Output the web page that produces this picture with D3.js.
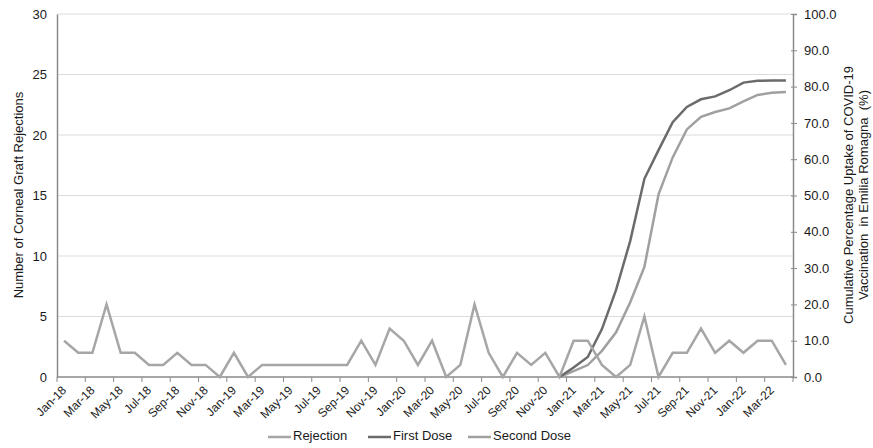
<!DOCTYPE html>
<html><head><meta charset="utf-8">
<script src="https://cdn.jsdelivr.net/npm/d3@7"></script>
<style>body{margin:0;background:#fff}text{font-family:"Liberation Sans",Arial,sans-serif;fill:#1a1a1a}</style>
</head><body><svg id="c" width="873" height="448"></svg>
<script>
const months=["Jan-18","Feb-18","Mar-18","Apr-18","May-18","Jun-18","Jul-18","Aug-18","Sep-18","Oct-18","Nov-18","Dec-18",
"Jan-19","Feb-19","Mar-19","Apr-19","May-19","Jun-19","Jul-19","Aug-19","Sep-19","Oct-19","Nov-19","Dec-19",
"Jan-20","Feb-20","Mar-20","Apr-20","May-20","Jun-20","Jul-20","Aug-20","Sep-20","Oct-20","Nov-20","Dec-20",
"Jan-21","Feb-21","Mar-21","Apr-21","May-21","Jun-21","Jul-21","Aug-21","Sep-21","Oct-21","Nov-21","Dec-21",
"Jan-22","Feb-22","Mar-22","Apr-22"];
const rejection=[3,2,2,6,2,2,1,1,2,1,1,0,2,0,1,1,1,1,1,1,1,3,1,4,3,1,3,0,1,6,2,0,2,1,2,0,3,3,1,0,1,5,0,2,2,4,2,3,2,3,3,1];
const firstDose=[null,null,null,null,null,null,null,null,null,null,null,null,null,null,null,null,null,null,null,null,null,null,null,null,
null,null,null,null,null,null,null,null,null,null,null,0,2.6,5.5,13.2,24,37.5,54.6,62.5,70.2,74.4,76.5,77.3,79,81.1,81.6,81.7,81.7];
const secondDose=[null,null,null,null,null,null,null,null,null,null,null,null,null,null,null,null,null,null,null,null,null,null,null,null,
null,null,null,null,null,null,null,null,null,null,null,0,1.6,3.3,7.2,12.3,20.6,30.3,50.3,60.5,68.2,71.7,73,74,75.9,77.7,78.3,78.5];
const leftTicks=[0,5,10,15,20,25,30];
const rightTicks=[0,10,20,30,40,50,60,70,80,90,100];
const seriesNames=["Rejection","First Dose","Second Dose"];
const colors={"Rejection":"#a6a6a6","First Dose":"#6b6b6b","Second Dose":"#a0a0a0"};

const svg=d3.select("#c");
const L=57,R=793,T=14,B=377;
const x=d3.scaleBand().domain(months).range([L,R]).paddingInner(0).paddingOuter(0);
const yL=d3.scaleLinear().domain([0,30]).range([B,T]);
const yR=d3.scaleLinear().domain([0,100]).range([B,T]);
const cx=m=>x(m)+x.bandwidth()/2;

// gridlines
svg.append("g").selectAll("line").data(leftTicks.filter(d=>d>0)).join("line")
 .attr("x1",L).attr("x2",R).attr("y1",d=>yL(d)).attr("y2",d=>yL(d))
 .attr("stroke","#dcdcdc").attr("stroke-width",1);

// left axis
const gL=svg.append("g").attr("transform",`translate(${L},0)`)
 .call(d3.axisLeft(yL).tickValues(leftTicks).tickSize(0).tickPadding(10));
gL.select(".domain").attr("stroke","#8a8a8a").attr("stroke-width",1.5);
gL.selectAll("text").attr("font-size",13).style("font-family","Liberation Sans");

// right axis
const gR=svg.append("g").attr("transform",`translate(${R},0)`)
 .call(d3.axisRight(yR).tickValues(rightTicks).tickFormat(d3.format(".1f")).tickSize(4).tickPadding(7));
gR.select(".domain").attr("stroke","#8a8a8a").attr("stroke-width",1.5);
gR.selectAll(".tick line").attr("stroke","#8a8a8a").attr("x1",-2);
gR.selectAll("text").attr("font-size",13).style("font-family","Liberation Sans");

// x axis
const gX=svg.append("g").attr("transform",`translate(0,${B})`);
gX.append("line").attr("x1",L).attr("x2",R).attr("stroke","#8a8a8a").attr("stroke-width",1.5);
const tickIdx=d3.range(0,months.length+1,2);
gX.selectAll(".tk").data(tickIdx).join("line").attr("class","tk")
 .attr("x1",i=>i<months.length?x(months[i]):R).attr("x2",i=>i<months.length?x(months[i]):R)
 .attr("y1",0).attr("y2",5).attr("stroke","#8a8a8a").attr("stroke-width",1);
gX.selectAll(".lb").data(months.filter((m,i)=>i%2===0)).join("text").attr("class","lb")
 .attr("transform",m=>`translate(${cx(m)+3},14) rotate(-45)`)
 .attr("text-anchor","end").attr("font-size",12).text(m=>m);

// lines
const lineL=d3.line().defined(d=>d.v!=null).x(d=>cx(d.m)).y(d=>yL(d.v));
const lineR=d3.line().defined(d=>d.v!=null).x(d=>cx(d.m)).y(d=>yR(d.v));
const mk=arr=>arr.map((v,i)=>({m:months[i],v}));
svg.append("path").attr("d",lineR(mk(secondDose))).attr("fill","none").attr("stroke",colors["Second Dose"]).attr("stroke-width",2.5);
svg.append("path").attr("d",lineR(mk(firstDose))).attr("fill","none").attr("stroke",colors["First Dose"]).attr("stroke-width",2.5);
svg.append("path").attr("d",lineL(mk(rejection))).attr("fill","none").attr("stroke",colors["Rejection"]).attr("stroke-width",2.5).attr("stroke-linejoin","miter");

// axis titles
svg.append("text").attr("transform",`translate(20,195) rotate(-90)`).attr("text-anchor","middle")
 .attr("dominant-baseline","middle").attr("font-size",13).text("Number of Corneal Graft Rejections");
svg.append("text").attr("transform",`translate(850,195) rotate(-90)`).attr("text-anchor","middle")
 .attr("dominant-baseline","middle").attr("font-size",13).text("Cumulative Percentage Uptake of COVID-19");
svg.append("text").attr("transform",`translate(865,195) rotate(-90)`).attr("text-anchor","middle")
 .attr("dominant-baseline","middle").attr("font-size",13).attr("xml:space","preserve").text("Vaccination  in Emilia Romagna  (%)");

// legend
const lx=[268,368,468];
const lg=svg.append("g").selectAll("g").data(seriesNames).join("g").attr("transform",(d,i)=>`translate(${lx[i]},437)`);
lg.append("line").attr("x1",0).attr("x2",23).attr("stroke",d=>colors[d]).attr("stroke-width",2.5);
lg.append("text").attr("x",25).attr("dominant-baseline","middle").attr("font-size",13).text(d=>d);
</script></body></html>
